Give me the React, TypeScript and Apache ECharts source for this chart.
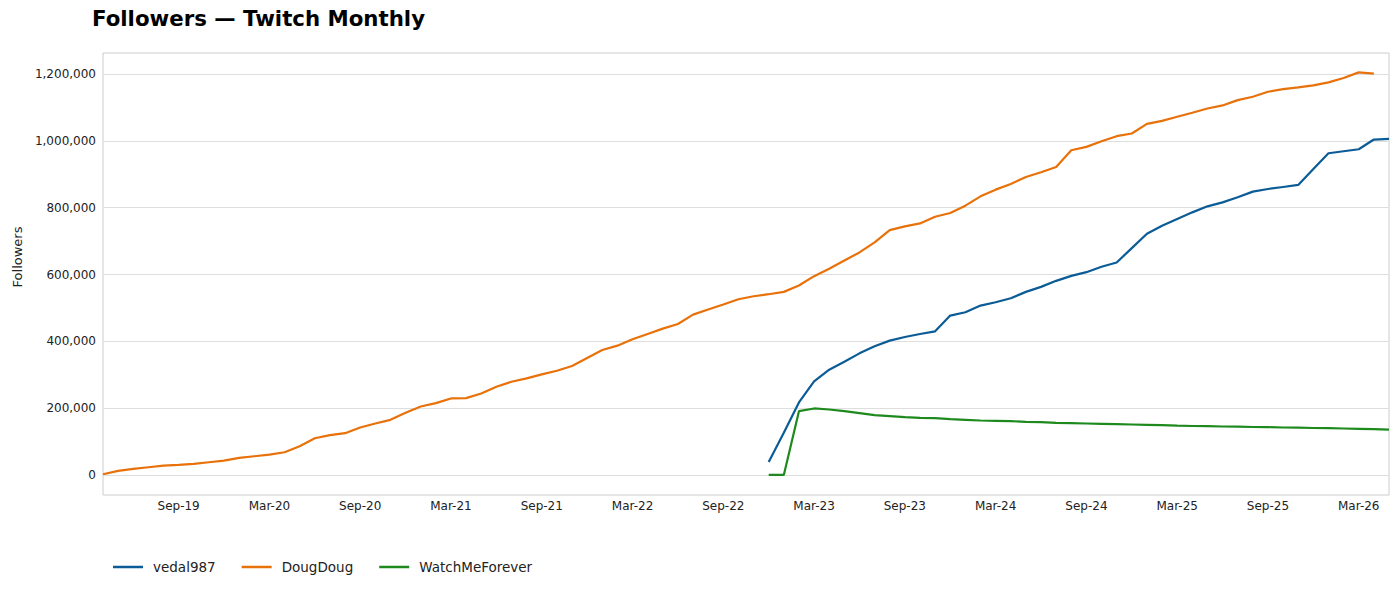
import React, { useEffect, useRef } from "react";
import * as echarts from "echarts";

const months = [
  "Apr-19", "May-19", "Jun-19", "Jul-19", "Aug-19", "Sep-19", "Oct-19", "Nov-19", "Dec-19",
  "Jan-20", "Feb-20", "Mar-20", "Apr-20", "May-20", "Jun-20", "Jul-20", "Aug-20", "Sep-20", "Oct-20", "Nov-20", "Dec-20",
  "Jan-21", "Feb-21", "Mar-21", "Apr-21", "May-21", "Jun-21", "Jul-21", "Aug-21", "Sep-21", "Oct-21", "Nov-21", "Dec-21",
  "Jan-22", "Feb-22", "Mar-22", "Apr-22", "May-22", "Jun-22", "Jul-22", "Aug-22", "Sep-22", "Oct-22", "Nov-22", "Dec-22",
  "Jan-23", "Feb-23", "Mar-23", "Apr-23", "May-23", "Jun-23", "Jul-23", "Aug-23", "Sep-23", "Oct-23", "Nov-23", "Dec-23",
  "Jan-24", "Feb-24", "Mar-24", "Apr-24", "May-24", "Jun-24", "Jul-24", "Aug-24", "Sep-24", "Oct-24", "Nov-24", "Dec-24",
  "Jan-25", "Feb-25", "Mar-25", "Apr-25", "May-25", "Jun-25", "Jul-25", "Aug-25", "Sep-25", "Oct-25", "Nov-25", "Dec-25",
  "Jan-26", "Feb-26", "Mar-26", "Apr-26", "May-26",
];

const tickMonths = ["Sep", "Mar"];

const vedalStart = "Dec-22";
const vedal987 = [
  39000, 126000, 217000, 280000, 315000, 339000, 364000, 385000, 402000, 413000,
  422000, 430000, 477000, 487000, 507000, 517000, 529000, 548000, 563000, 581000,
  596000, 607000, 623000, 636000, 679000, 722000, 746000, 766000, 786000, 804000,
  816000, 831000, 848000, 856000, 862000, 868000, 916000, 963000, 969000, 975000,
  1004000, 1006000,
];

const dougStart = "Apr-19";
const dougDoug = [
  2000, 12000, 18000, 23000, 28000, 30000, 33000, 38000, 43000, 51000,
  56000, 61000, 68000, 86000, 110000, 119000, 125000, 142000, 154000, 165000,
  186000, 205000, 215000, 229000, 230000, 244000, 264000, 279000, 289000, 301000,
  312000, 326000, 350000, 374000, 387000, 406000, 422000, 438000, 452000, 480000,
  495000, 510000, 526000, 535000, 541000, 548000, 567000, 595000, 617000, 642000,
  666000, 696000, 733000, 744000, 753000, 773000, 784000, 806000, 834000, 854000,
  871000, 892000, 906000, 922000, 972000, 982000, 999000, 1014000, 1022000, 1051000,
  1060000, 1072000, 1084000, 1097000, 1106000, 1122000, 1132000, 1147000, 1155000, 1160000,
  1166000, 1175000, 1188000, 1205000, 1201000,
];

const wmfStart = "Dec-22";
const watchMeForever = [
  0, 0, 191000, 199000, 196000, 191000, 185000, 179000, 176000, 173000,
  171000, 170000, 167000, 165000, 163000, 162000, 161000, 159000, 158000, 156000,
  155000, 154000, 153000, 152000, 151000, 150000, 149000, 147500, 146500, 146000,
  145000, 144500, 143500, 143000, 142000, 141500, 140500, 140000, 139000, 138000,
  137000, 135500,
];

const seriesNames = ["vedal987", "DougDoug", "WatchMeForever"];
const seriesColors = ["#0b5c96", "#e8710a", "#1e8a1e"];

function pairs(start: string, values: number[]) {
  const s = months.indexOf(start);
  return values.map((v, k) => [months[s + k], v]);
}

const FONT = "DejaVu Sans";

export default function App() {
  const ref = useRef<HTMLDivElement>(null);
  useEffect(() => {
    if (!ref.current) return;
    const chart = echarts.init(ref.current, undefined, { renderer: "svg" });
    const datasets = [
      pairs(vedalStart, vedal987),
      pairs(dougStart, dougDoug),
      pairs(wmfStart, watchMeForever),
    ];
    chart.setOption({
      animation: false,
      backgroundColor: "#ffffff",
      textStyle: { fontFamily: FONT },
      title: {
        text: "Followers — Twitch Monthly",
        left: 92,
        top: 8,
        padding: 0,
        textStyle: { fontSize: 21.3, fontWeight: "bold", color: "#000", fontFamily: FONT },
      },
      grid: {
        left: 103,
        right: 11,
        top: 53,
        bottom: 95,
        show: true,
        borderColor: "#cccccc",
        borderWidth: 1,
        backgroundColor: "transparent",
      },
      legend: {
        left: 113,
        top: 560,
        padding: 0,
        itemGap: 26,
        itemWidth: 30,
        itemHeight: 2.5,
        icon: "rect",
        textStyle: { fontSize: 13.5, color: "#222", fontFamily: FONT, padding: [0, 0, 0, 5] },
        data: seriesNames,
      },
      graphic: [
        {
          type: "text",
          x: 17,
          y: 257,
          rotation: Math.PI / 2,
          style: {
            text: "Followers",
            fontSize: 13,
            fontFamily: FONT,
            fill: "#222",
            textAlign: "center",
            textVerticalAlign: "middle",
          },
        },
      ],
      xAxis: {
        type: "category",
        data: months,
        boundaryGap: false,
        axisLine: { show: false },
        axisTick: { show: false },
        splitLine: { show: false },
        axisLabel: {
          interval: (i: number, v: string) => tickMonths.includes(v.slice(0, 3)),
          margin: 5,
          fontSize: 12,
          color: "#222",
          fontFamily: FONT,
        },
      },
      yAxis: {
        type: "value",
        min: -60000,
        max: 1263000,
        splitNumber: 7,
        axisLine: { show: false },
        axisTick: { show: false },
        axisLabel: {
          showMinLabel: false,
          showMaxLabel: false,
          margin: 7,
          fontSize: 12,
          color: "#222",
          fontFamily: FONT,
          formatter: (v: number) => v.toLocaleString("en-US"),
        },
        splitLine: {
          show: true,
          showMinLine: false,
          showMaxLine: false,
          lineStyle: { color: "#dedede", width: 1 },
        },
      },
      series: seriesNames.map((name, k) => ({
        name,
        type: "line",
        data: datasets[k],
        symbol: "none",
        showSymbol: false,
        lineStyle: { width: 2.2, color: seriesColors[k] },
        itemStyle: { color: seriesColors[k] },
      })),
    });
    return () => chart.dispose();
  }, []);
  return (
    <div
      ref={ref}
      style={{ position: "fixed", left: 0, top: 0, width: 1400, height: 590 }}
    />
  );
}
